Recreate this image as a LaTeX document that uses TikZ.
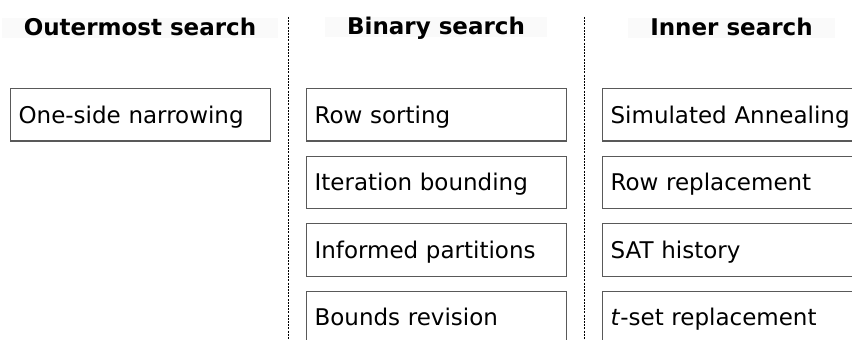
\documentclass[tikz,border=0pt]{standalone}
\usepackage{fontspec}
\setmainfont{DejaVu Sans}
\usetikzlibrary{positioning}

\begin{document}
\begin{tikzpicture}[x=0.5pt,y=-0.5pt,font=\fontsize{11.5}{13}\selectfont,
  node distance=7pt,
  techbox/.style={draw=black!65,line width=0.6pt,anchor=north west,minimum height=26.2pt,
    inner xsep=4pt,text width=122pt,align=left,text height=1.05em,text depth=0.21em},
  colhead/.style={fill=black!2,font=\fontsize{11.5}{13}\selectfont\bfseries,
    inner xsep=11pt,inner ysep=0pt,text height=0.87em,text depth=0.13em},
  sepline/.style={line width=0.4pt,dash pattern=on 1pt off 0.6pt}]
\useasboundingbox (0,0) rectangle (852,340);
\clip (0,0) rectangle (852,340);
% column headings
\node[colhead] (outerhead) at (140,28.5) {Outermost search};
\node[colhead] (binhead) at (436,27.5) {Binary search};
\node[colhead] (innerhead) at (731.5,28) {Inner search};
% separators
\coordinate (sepA top) at (288,17);
\coordinate (sepA bot) at (288,340);
\coordinate (sepB top) at (584,17);
\coordinate (sepB bot) at (584,340);
\draw[sepline] (sepA top) -- (sepA bot);
\draw[sepline] (sepB top) -- (sepB bot);
% outermost search
\node[techbox] (narrow) at (10,88) {One-side narrowing};
% binary search
\node[techbox] (rowsort) at (306,88) {Row sorting};
\node[techbox,below=of rowsort] (iterbound) {Iteration bounding};
\node[techbox,below=of iterbound] (informed) {Informed partitions};
\node[techbox,below=of informed] (boundrev) {Bounds revision};
% inner search
\node[techbox] (annealing) at (602,88) {Simulated Annealing};
\node[techbox,below=of annealing] (rowrepl) {Row replacement};
\node[techbox,below=of rowrepl] (sathist) {SAT history};
\node[techbox,below=of sathist] (tsetrepl) {\textit{t}-set replacement};
\end{tikzpicture}
\end{document}
